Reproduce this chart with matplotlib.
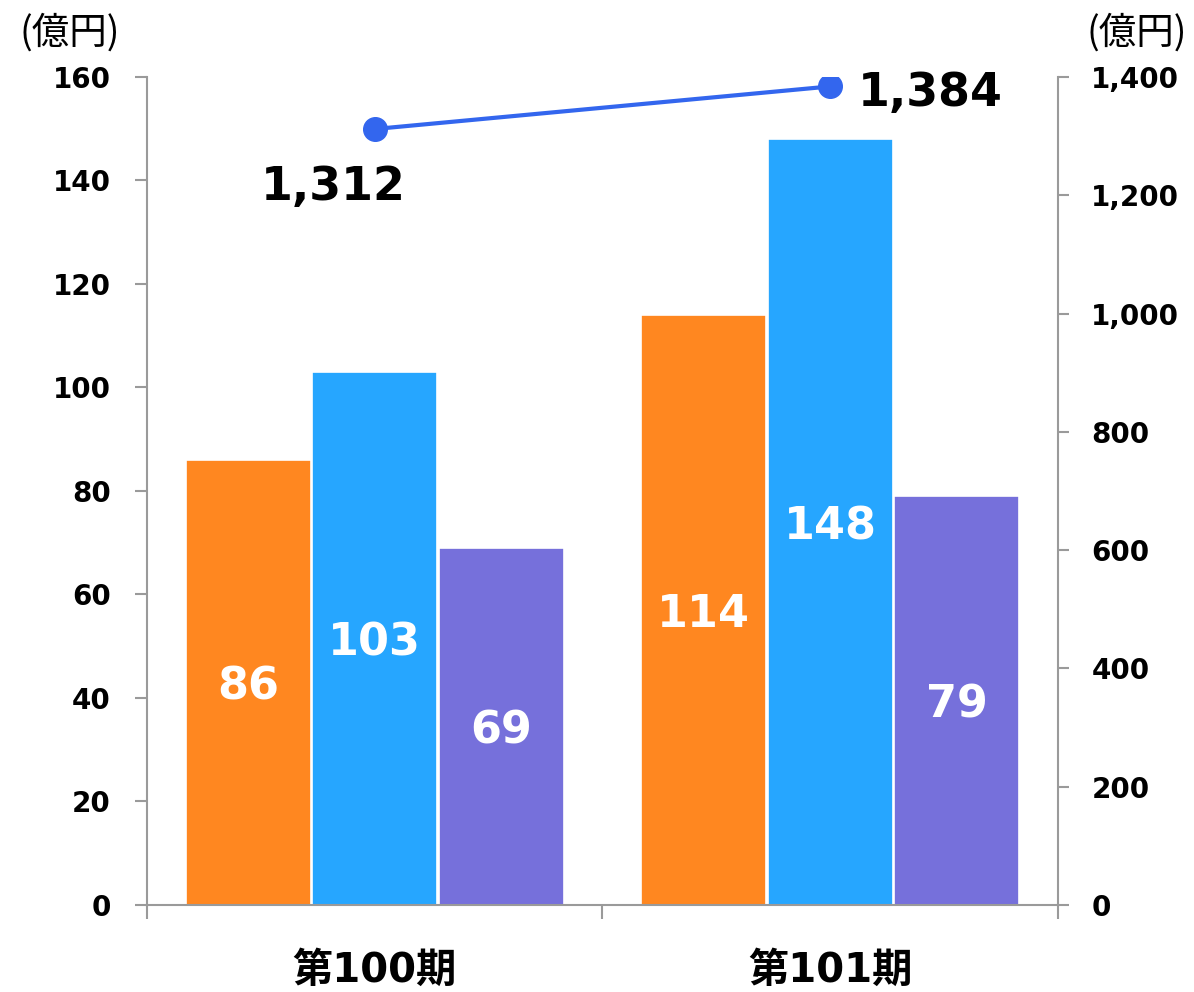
import matplotlib
matplotlib.use("Agg")
import matplotlib.pyplot as plt
import numpy as np

plt.rcParams['font.family'] = ['DejaVu Sans', 'Noto Sans CJK JP']

# data
periods = ["第100期", "第101期"]
orange_vals = [86, 114]
blue_vals = [103, 148]
purple_vals = [69, 79]
line_vals = [1312, 1384]

left_ticks = [0, 20, 40, 60, 80, 100, 120, 140, 160]
right_ticks = [0, 200, 400, 600, 800, 1000, 1200, 1400]

bar_colors = ["#FF8720", "#26A6FF", "#7670DB"]
line_color = "#3366EE"
axis_gray = "#9A9A9A"

fig = plt.figure(figsize=(11.94, 9.92), dpi=100)
ax = fig.add_axes([0.1231, 0.0877, 0.763, 0.8347])

x = np.arange(len(periods))
step = 0.2777
width = 0.275
series = [orange_vals, blue_vals, purple_vals]
for i, (vals, col) in enumerate(zip(series, bar_colors)):
    pos = x + (i - 1) * step
    bars = ax.bar(pos, vals, width=width, color=col, edgecolor="white", linewidth=1.2, zorder=2)
    for b, v in zip(bars, vals):
        ax.text(b.get_x() + b.get_width() / 2, v / 2, str(v), ha="center", va="center_baseline",
                color="white", fontsize=32, fontweight="bold", zorder=3)

ax.set_xlim(-0.5, 1.5)
ax.set_ylim(0, 160)
ax.set_yticks(left_ticks)
ax.set_yticklabels([str(t) for t in left_ticks], fontsize=20, fontweight="bold")
ax.tick_params(axis="y", direction="out", length=9, width=1.5, color=axis_gray, pad=17)

ax.set_xticks([-0.5, 0.5, 1.5])
ax.set_xticklabels([])
ax.tick_params(axis="x", which="major", direction="out", length=10, width=1.5, color=axis_gray)
ax.set_xticks(x, minor=True)
ax.set_xticklabels(periods, minor=True, fontsize=29, fontweight="bold")
ax.tick_params(axis="x", which="minor", length=0, pad=33)

for s in ["top", "right"]:
    ax.spines[s].set_visible(False)
for s in ["left", "bottom"]:
    ax.spines[s].set_color(axis_gray)
    ax.spines[s].set_linewidth(1.5)

ax2 = ax.twinx()
ax2.set_ylim(0, 1400)
ax2.set_yticks(right_ticks)
ax2.set_yticklabels([f"{t:,}" for t in right_ticks], fontsize=20, fontweight="bold")
ax2.tick_params(axis="y", direction="out", length=8, width=1.5, color=axis_gray, pad=16)
for s in ["top", "left", "bottom"]:
    ax2.spines[s].set_visible(False)
ax2.spines["right"].set_color(axis_gray)
ax2.spines["right"].set_linewidth(1.5)

ax2.plot(x, line_vals, color=line_color, linewidth=3, marker="o", markersize=17, zorder=4)
ax2.annotate(f"{line_vals[0]:,}", (x[0], line_vals[0]), xytext=(-30, -42), textcoords="offset points",
             ha="center", va="center", fontsize=33, fontweight="bold")
ax2.annotate(f"{line_vals[1]:,}", (x[1], line_vals[1]), xytext=(72, -5), textcoords="offset points",
             ha="center", va="center", fontsize=33, fontweight="bold")

# unit labels
unit = "(億円)"
fig.text(70 / 1194, 1 - 33 / 992, unit, ha="center", va="center", fontsize=27,
         family=["Noto Sans CJK JP", "DejaVu Sans"])
fig.text(1137 / 1194, 1 - 33 / 992, unit, ha="center", va="center", fontsize=27,
         family=["Noto Sans CJK JP", "DejaVu Sans"])

fig.savefig("out.png", dpi=100)
